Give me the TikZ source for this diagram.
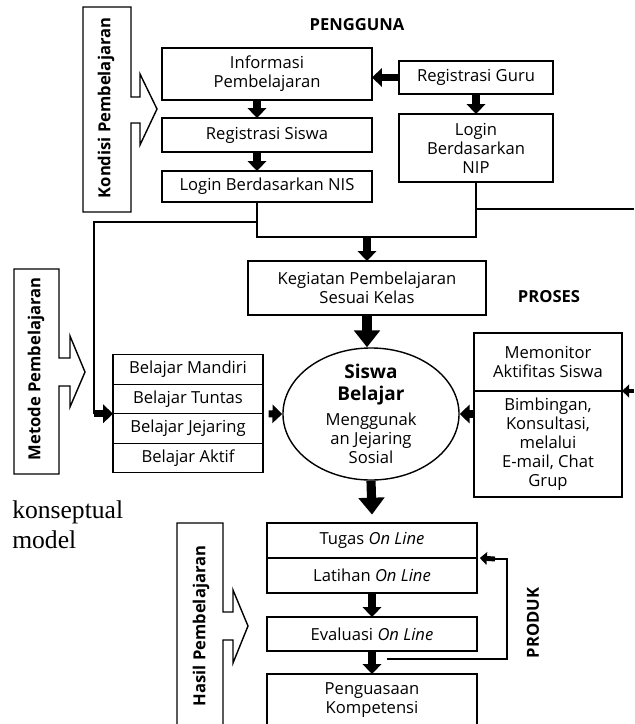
\documentclass[tikz,border=0pt]{standalone}
\usepackage{fontspec}
\setmainfont{Open Sans}
\newfontfamily\seriffont{Liberation Serif}
\usetikzlibrary{positioning,arrows.meta,shapes.geometric}

\begin{document}
\begin{tikzpicture}[x=0.025cm, y=-0.025cm,
    box/.style={draw, line width=1pt, align=center, inner sep=1pt, outer sep=0pt,
        font=\fontsize{11.8}{13.5}\selectfont},
    title/.style={font=\bfseries\fontsize{11.8}{13.5}\selectfont},
    side/.style={line width=1pt},
    line/.style={line width=1pt},
    blk/.style={line width=5pt, -{Triangle[length=7pt,width=13pt]}},
    bigblk/.style={line width=6.5pt, -{Triangle[length=12pt,width=18pt]}},
    smallblk/.style={line width=3.5pt, -{Triangle[length=5pt,width=9pt]}}]
    \clip (0,0) rectangle (634,724);

    % arrow shaped side labels
    \draw[side] (83,7) -- (131,7) -- (131,97) -- (140,97) -- (140,74) -- (157,109)
        -- (140,145) -- (140,123) -- (131,123) -- (131,212) -- (83,212) -- cycle;
    \node[title, rotate=90] (kondisi) at (106,108) {Kondisi Pembelajaran};
    \draw[side] (14,269) -- (59,269) -- (59,358) -- (70,358) -- (70,336) -- (85,372)
        -- (70,407) -- (70,386) -- (59,386) -- (59,474) -- (14,474) -- cycle;
    \node[title, rotate=90] (metode) at (36,369) {Metode Pembelajaran};
    \draw[side] (177,523) -- (223,523) -- (223,612) -- (233,612) -- (233,590) -- (248,626)
        -- (233,663) -- (233,640) -- (223,640) -- (223,740) -- (177,740) -- cycle;
    \node[title, rotate=90] (hasil) at (201,626) {Hasil Pembelajaran};

    % pengguna
    \node[title] (pengguna) at (357,25) {PENGGUNA};
    \node[box, minimum width=5.25cm, minimum height=1.3cm] (info) at (267,74) {Informasi\\Pembelajaran};
    \node[box, minimum width=5.25cm, minimum height=0.85cm] (regsis) at (267,135) {Registrasi Siswa};
    \node[box, minimum width=5.25cm, minimum height=0.775cm] (loginnis) at (267,186.5) {Login Berdasarkan NIS};
    \node[box, minimum width=3.85cm, minimum height=0.825cm] (regguru) at (476,77.5) {Registrasi Guru};
    \node[box, minimum width=3.85cm, minimum height=1.7cm] (loginnip) at (476,148) {Login\\Berdasarkan\\NIP};

    \coordinate (lcol) at (257,0);
    \draw[blk] (regguru.west) -- (regguru.west -| info.east);
    \draw[blk] (info.south -| lcol) -- (regsis.north -| lcol);
    \draw[blk] (regsis.south -| lcol) -- (loginnis.north -| lcol);
    \draw[blk] (regguru.south) -- (loginnip.north);

    \coordinate (join) at (367,237);
    \coordinate (split) at (257,222);
    \coordinate (bend) at (94,222);
    \coordinate (nipout) at (634,209);
    \draw[line] (loginnis.south -| lcol) |- (join) -| (loginnip.south);
    \draw[line] (loginnip.south |- nipout) -- (nipout);

    % proses
    \node[box, minimum width=5.95cm, minimum height=1.35cm] (kegiatan) at (367,288) {Kegiatan Pembelajaran\\Sesuai Kelas};
    \node[title] (proses) at (549,297) {PROSES};
    \draw[blk] (join) -- (kegiatan.north);

    \node[draw, ellipse, line width=1pt, minimum width=4.4cm, minimum height=3.3cm] (siswa) at (371,414) {};
    \node[align=center, inner sep=0pt, font=\fontsize{11.8}{13.5}\selectfont] (siswatxt) at (siswa)
        {{\bfseries\fontsize{13.5}{15.5}\selectfont Siswa}\\[2pt]{\bfseries\fontsize{13.5}{15.5}\selectfont Belajar}\\[4pt]Menggunak\\an Jejaring\\Sosial};
    \draw[bigblk] (kegiatan.south) -- (kegiatan.south |- siswa.north);

    \node[box, minimum width=3.75cm, minimum height=0.7375cm] (mandiri) at (188,369.5) {Belajar Mandiri};
    \node[box, minimum width=3.75cm, minimum height=0.7375cm, below=0pt of mandiri] (tuntas) {Belajar Tuntas};
    \node[box, minimum width=3.75cm, minimum height=0.7375cm, below=0pt of tuntas] (jejaring) {Belajar Jejaring};
    \node[box, minimum width=3.75cm, minimum height=0.7375cm, below=0pt of jejaring] (aktif) {Belajar Aktif};
    \draw[line] (split) -- (bend) -- (bend |- tuntas.south west);
    \draw[blk] (bend |- tuntas.south west) -- (tuntas.south west);
    \draw[blk] ([xshift=4pt]tuntas.south east) -- (siswa.west);

    \node[box, minimum width=3.7cm, minimum height=1.45cm] (monitor) at (548,362) {Memonitor\\Aktifitas Siswa};
    \node[box, minimum width=3.7cm, minimum height=2.65cm, below=0pt of monitor] (bimbingan)
        {Bimbingan,\\Konsultasi,\\melalui\\E-mail, Chat\\Grup};
    \draw[blk] (bimbingan.west |- siswa.east) -- (siswa.east);
    \coordinate (monin) at (634,391);
    \draw[smallblk] (monin) -- (monin -| monitor.east);

    % produk
    \node[box, minimum width=5.25cm, minimum height=0.875cm] (tugas) at (372,540.5) {Tugas \textit{On Line}};
    \node[box, minimum width=5.25cm, minimum height=0.875cm, below=0pt of tugas] (latihan) {Latihan \textit{On Line}};
    \node[box, minimum width=5.25cm, minimum height=0.85cm] (evaluasi) at (372,634) {Evaluasi \textit{On Line}};
    \node[box, minimum width=5.25cm, minimum height=1.3cm] (kompetensi) at (372,700) {Penguasaan\\Kompetensi};
    \node[title, rotate=90] (produk) at (533,623) {PRODUK};
    \draw[bigblk] (siswa.south) -- ([yshift=6pt]tugas.north);
    \draw[blk] (latihan.south) -- (evaluasi.north);
    \draw[blk] (evaluasi.south) -- (kompetensi.north);

    \coordinate (fbstart) at (387,659);
    \coordinate (fbcorner) at (507,559);
    \coordinate (fbhead) at (495,559);
    \draw[line] (fbstart) -| (fbcorner) -- (fbhead);
    \draw[smallblk] (fbhead) -- ([xshift=2pt]tugas.south east);

    \node[anchor=west, align=left, inner sep=0pt, font=\seriffont\fontsize{18.2}{21.3}\selectfont] (caption) at (12,525) {konseptual\\model};
\end{tikzpicture}
\end{document}
